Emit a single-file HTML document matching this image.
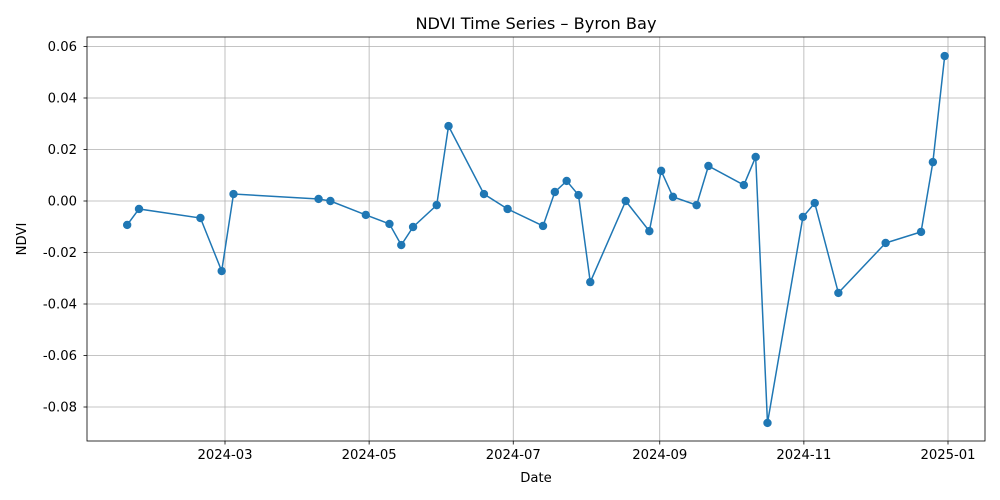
<!DOCTYPE html>
<html><head><meta charset="utf-8"><style>
html,body{margin:0;padding:0;background:#fff;}
svg{display:block;font-family:"DejaVu Sans","Liberation Sans",sans-serif;}
</style></head><body>
<svg id="chart" width="1000" height="500"></svg>
<script>
const dates = ["2024-01-19","2024-01-24","2024-02-19","2024-02-28","2024-03-04","2024-04-09","2024-04-14","2024-04-29","2024-05-09","2024-05-14","2024-05-19","2024-05-29","2024-06-03","2024-06-18","2024-06-28","2024-07-13","2024-07-18","2024-07-23","2024-07-28","2024-08-02","2024-08-17","2024-08-27","2024-09-01","2024-09-06","2024-09-16","2024-09-21","2024-10-06","2024-10-11","2024-10-16","2024-10-31","2024-11-05","2024-11-15","2024-12-05","2024-12-20","2024-12-25","2024-12-30"];
const ndvi = [-0.0093,-0.0031,-0.0066,-0.0272,0.0027,0.0008,0.0,-0.0054,-0.0089,-0.0171,-0.0101,-0.0016,0.0291,0.0027,-0.0031,-0.0097,0.0035,0.0078,0.0023,-0.0315,0.0,-0.0117,0.0117,0.0016,-0.0016,0.0136,0.0062,0.0171,-0.0862,-0.0062,-0.0008,-0.0357,-0.0163,-0.0120,0.0151,0.0563];
const xTicks = ["2024-03-01","2024-05-01","2024-07-01","2024-09-01","2024-11-01","2025-01-01"];
const xTickLabels = ["2024-03","2024-05","2024-07","2024-09","2024-11","2025-01"];
const yTicks = [-0.08,-0.06,-0.04,-0.02,0.00,0.02,0.04,0.06];

const NS="http://www.w3.org/2000/svg";
const svg=document.getElementById('chart');
const L=87,R=985,T=37,B=441;
const mar1=Date.UTC(2024,2,1), DAY=86400000;
function xs(s,off){const d=(Date.parse(s+"T00:00:00Z")-mar1)/DAY+(off||0);return 225+d*(723/306);}
function ys(v){return 201-v*2575;}
function el(tag,attrs,parent){const e=document.createElementNS(NS,tag);for(const k in attrs)e.setAttribute(k,attrs[k]);(parent||svg).appendChild(e);return e;}

yTicks.forEach(v=>{const y=ys(v);
 const g=el('line',{x1:L,x2:R,y1:y,y2:y,stroke:'#b0b0b0','stroke-width':0.8});
 
 
 el('line',{x1:L-3.5,x2:L,y1:y,y2:y,stroke:'#000','stroke-width':0.8});
 const t=el('text',{x:L-10,y:y+4.5,'text-anchor':'end','font-size':13.2});
 t.textContent=v.toFixed(2);
 
 
});
xTicks.forEach((s,i)=>{const x=xs(s);
 const g=el('line',{x1:x,x2:x,y1:T,y2:B,stroke:'#b0b0b0','stroke-width':0.8});
 
 
 el('line',{x1:x,x2:x,y1:B,y2:B+3.5,stroke:'#000','stroke-width':0.8});
 const t=el('text',{x:x,y:B+18,'text-anchor':'middle','font-size':13.2});
 t.textContent=xTickLabels[i];
 
 
});
const pts=dates.map((d,i)=>xs(d,0.6)+','+ys(ndvi[i])).join(' ');
const pl=el('polyline',{points:pts,fill:'none',stroke:'#1f77b4','stroke-width':1.5});


dates.forEach((d,i)=>{
 const c=el('circle',{cx:xs(d,0.6),cy:ys(ndvi[i]),r:4.2,fill:'#1f77b4'});
 
 
});
const f=el('rect',{x:L,y:T,width:R-L,height:B-T,fill:'none',stroke:'#000','stroke-width':0.8});


const title=el('text',{x:536,y:29,'text-anchor':'middle','font-size':16.2});
title.textContent='NDVI Time Series – Byron Bay';


const xl=el('text',{x:536,y:482,'text-anchor':'middle','font-size':13.2});
xl.textContent='Date';


const yl=el('text',{x:0,y:0,'text-anchor':'middle','font-size':13.2,transform:'translate(26,239) rotate(-90)'});
yl.textContent='NDVI';


</script>
</body></html>
